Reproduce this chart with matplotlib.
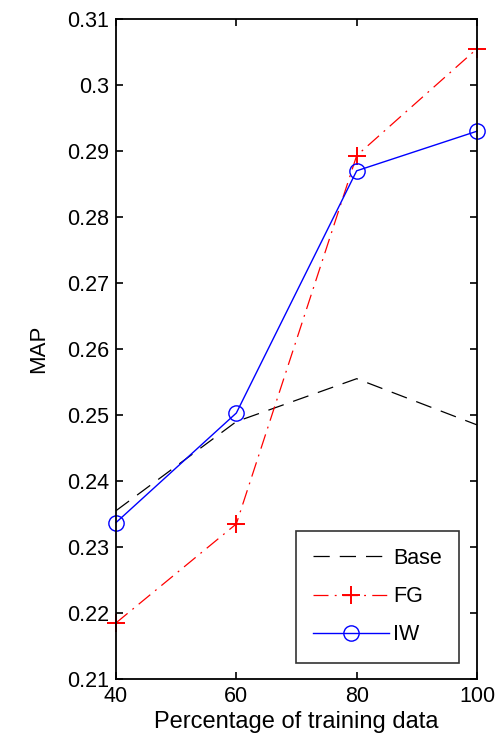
import matplotlib
matplotlib.use("Agg")
import matplotlib.pyplot as plt

plt.rcParams['font.family'] = ['Liberation Sans', 'DejaVu Sans']

# Data
percentages = [40, 60, 80, 100]
base_map = [0.2355, 0.2490, 0.2555, 0.2485]
fg_map = [0.2185, 0.2335, 0.2893, 0.3055]
iw_map = [0.2337, 0.2503, 0.2870, 0.2930]

fig = plt.figure(figsize=(5.03, 7.41), dpi=100)
ax = fig.add_axes([116 / 503, 1 - 679 / 741, (477 - 116) / 503, (679 - 19) / 741])

ax.plot(percentages, base_map, color="black", linestyle=(0, (13, 8)), linewidth=0.9,
        label="Base", clip_on=False)
ax.plot(percentages, fg_map, color="red", linestyle=(0, (12, 5, 1.5, 5)), linewidth=0.9,
        marker="+", markersize=13, markeredgewidth=1.4, label="FG", clip_on=False)
ax.plot(percentages, iw_map, color="blue", linestyle="-", linewidth=1.0,
        marker="o", markersize=11, markerfacecolor="none", markeredgewidth=1.0,
        label="IW", clip_on=False)

ax.set_xlim(40, 100)
ax.set_ylim(0.21, 0.31)
ax.set_xticks([40, 60, 80, 100])
ax.set_yticks([0.21, 0.22, 0.23, 0.24, 0.25, 0.26, 0.27, 0.28, 0.29, 0.3, 0.31])
ax.set_yticklabels(["0.21", "0.22", "0.23", "0.24", "0.25", "0.26", "0.27", "0.28", "0.29", "0.3", "0.31"])
ax.tick_params(direction="in", top=True, right=True, length=5, width=1.2, labelsize=15.5, pad=5)
for spine in ax.spines.values():
    spine.set_linewidth(1.3)

ax.set_xlabel("Percentage of training data", fontsize=17, labelpad=3)
ax.set_ylabel("MAP", fontsize=16, labelpad=13)

leg = ax.legend(loc="lower right", bbox_to_anchor=(0.95, 0.025), fontsize=15.5, frameon=True,
                fancybox=False, edgecolor="black", handlelength=3.5, borderpad=0.8,
                labelspacing=0.8, handletextpad=0.2, borderaxespad=0.0)
leg.get_frame().set_linewidth(1.2)

fig.savefig("out.png", dpi=100)
